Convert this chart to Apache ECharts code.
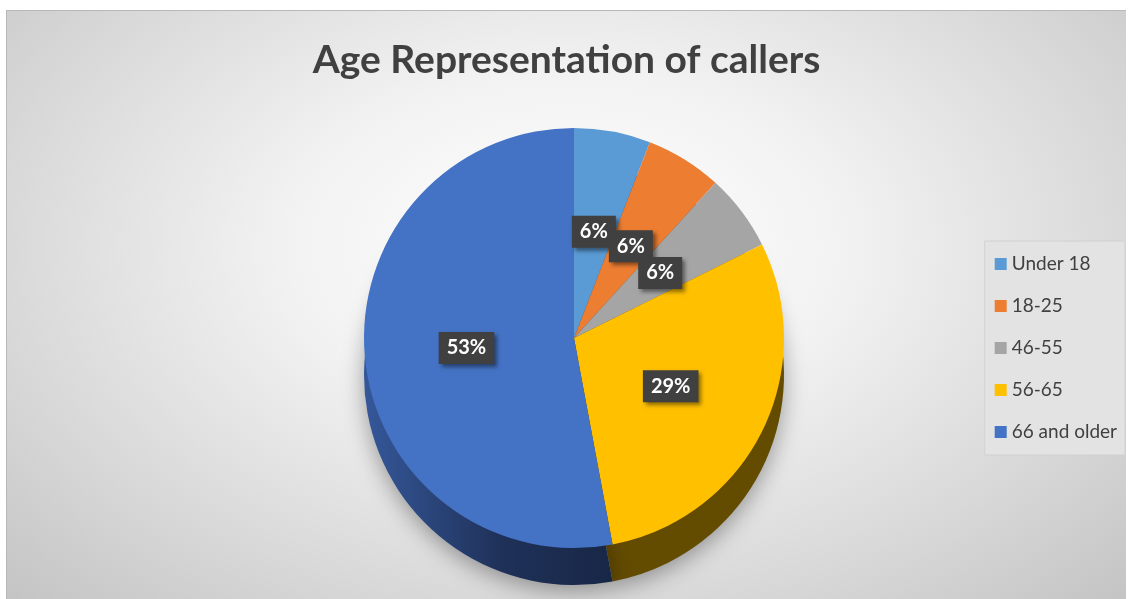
<!DOCTYPE html>
<html>
<head>
<meta charset="utf-8">
<script src="https://cdn.jsdelivr.net/npm/echarts@6/dist/echarts.min.js"></script>
<style>
html,body{margin:0;padding:0;background:#fff;}
#chart{position:absolute;left:6px;top:10px;width:1119px;height:589px;
  background:radial-gradient(ellipse at 50% 40%, #ffffff 0%, #f2f2f2 35%, #d6d6d6 75%, #c4c4c4 100%);
  border-top:1px solid #b8b8b8;border-left:1px solid #b8b8b8;}
</style>
</head>
<body>
<div id="chart"></div>
<script>
var ages = ['Under 18', '18-25', '46-55', '56-65', '66 and older'];
var callers = [1, 1, 1, 5, 9];
var topColors = ['#5B9BD5', '#ED7D31', '#A5A5A5', '#FFC000', '#4472C4'];
var sideColors = ['#2d4f73', '#7a3d15', '#525252', '#634b00', '#2a4478'];

var chart = echarts.init(document.getElementById('chart'));

var topData = ages.map(function (a, i) {
    return {name: a, value: callers[i], itemStyle: {color: topColors[i]}};
});
var sideData = ages.map(function (a, i) {
    var c = sideColors[i];
    if (i === 4) {
        c = new echarts.graphic.LinearGradient(0, 0, 1, 0, [
            {offset: 0, color: '#35589a'},
            {offset: 0.55, color: '#1f3159'},
            {offset: 1, color: '#182746'}
        ]);
    }
    return {name: a, value: callers[i], itemStyle: {color: c}};
});

chart.setOption({
    backgroundColor: 'transparent',
    title: {
        text: 'Age Representation of callers',
        left: 'center',
        top: 25,
        textStyle: {fontFamily: 'Lato', fontSize: 39, fontWeight: 'bold', color: '#404040'}
    },
    legend: {
        orient: 'vertical',
        right: 1,
        top: 230,
        data: ages,
        icon: 'rect',
        itemWidth: 12,
        itemHeight: 12,
        itemGap: 20,
        padding: [12, 8, 12, 10],
        backgroundColor: '#e3e3e3',
        borderColor: '#d0d0d0',
        borderWidth: 1,
        textStyle: {fontFamily: 'Lato', fontSize: 19, color: '#404040', lineHeight: 22}
    },
    series: [
        {
            name: 'Age Representation of callers',
            type: 'pie',
            center: [567, 327],
            radius: 210,
            startAngle: 90,
            z: 3,
            label: {
                show: true,
                position: 'inside',
                formatter: function (p) { return Math.round(p.percent) + '%'; },
                color: '#ffffff',
                fontFamily: 'Lato',
                fontWeight: 'bold',
                fontSize: 20,
                backgroundColor: '#404040',
                padding: [6, 8, 6, 8],
                shadowColor: 'rgba(0,0,0,0.45)',
                shadowBlur: 4,
                shadowOffsetX: 3,
                shadowOffsetY: 3
            },
            labelLayout: {hideOverlap: false},
            labelLine: {show: false},
            data: topData
        },
        {
            name: 'side',
            type: 'pie',
            center: [567, 364],
            radius: 210,
            startAngle: 90,
            silent: true,
            legendHoverLink: false,
            z: 1,
            label: {show: false},
            labelLine: {show: false},
            itemStyle: {shadowBlur: 22, shadowColor: 'rgba(0,0,0,0.35)', shadowOffsetY: 6},
            data: sideData
        }
    ]
});
</script>
</body>
</html>
